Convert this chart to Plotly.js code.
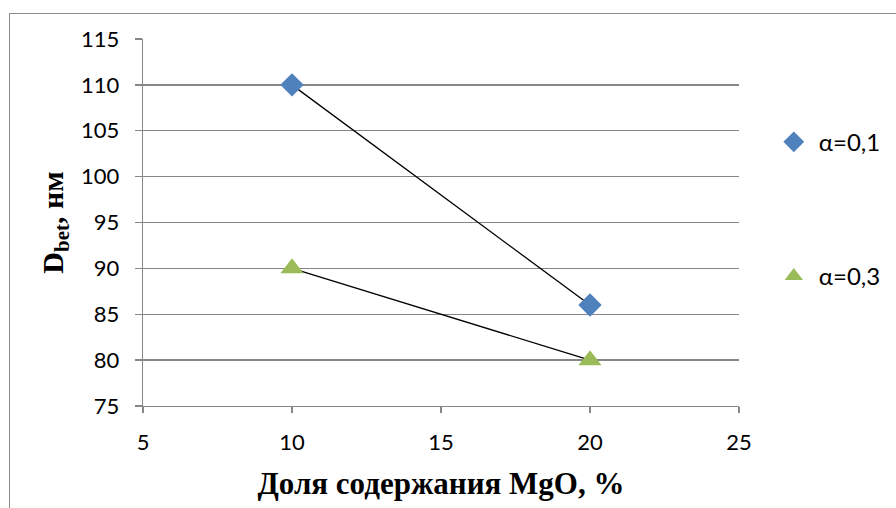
<!DOCTYPE html>
<html>
<head>
<meta charset="utf-8">
<script src="https://cdn.plot.ly/plotly-3.0.1.min.js"></script>
<style>
html,body{margin:0;padding:0;overflow:hidden;background:#fff;}
#frame{position:absolute;left:9px;top:13px;width:1000px;height:1000px;border:1px solid #8c8c8c;pointer-events:none;z-index:5;}
#chart{position:absolute;left:0;top:0;width:896px;height:508px;}
</style>
</head>
<body>
<div id="chart"></div>
<div id="frame"></div>
<script>
const mgo = [10, 20];
const dAlpha01 = [110, 86];
const dAlpha03 = [90, 80];
const seriesNames = ["α=0,1", "α=0,3"];
const xTicks = [5, 10, 15, 20, 25];
const yTicks = [75, 80, 85, 90, 95, 100, 105, 110, 115];

const lineStyle = {color: "#000000", width: 1.3};
const traces = [
  {x: mgo, y: dAlpha01, mode: "lines", line: lineStyle, showlegend: false, hoverinfo: "skip"},
  {x: mgo, y: dAlpha03, mode: "lines", line: lineStyle, showlegend: false, hoverinfo: "skip"},
  {x: mgo, y: dAlpha01, mode: "markers", name: seriesNames[0], legendgroup: "a",
   marker: {symbol: "diamond", size: 18, color: "#4F81BD"}},
  {x: mgo, y: dAlpha03, mode: "markers", name: seriesNames[1], legendgroup: "b",
   marker: {symbol: "triangle-up", size: 20, color: "#9BBB59"}}
];

const tickFont = {family: "Lato, 'Open Sans', sans-serif", size: 22, color: "#000"};
const titleFamily = "'Liberation Serif', 'Times New Roman', serif";
const layout = {
  width: 896, height: 508,
  margin: {l: 143, r: 157, t: 39, b: 102, autoexpand: false},
  paper_bgcolor: "#ffffff", plot_bgcolor: "#ffffff",
  showlegend: true,
  legend: {x: 1.05, y: 0.78, xanchor: "left", yanchor: "top", itemwidth: 40,
           font: {family: "Lato, 'Open Sans', sans-serif", size: 24, color: "#000"},
           tracegroupgap: 100, traceorder: "grouped", bgcolor: "rgba(0,0,0,0)"},
  xaxis: {
    range: [5, 25], tickvals: xTicks, ticktext: xTicks.map(String),
    showgrid: false, zeroline: false, showline: true, linecolor: "#868686", linewidth: 1.3,
    ticks: "outside", ticklen: 6, tickcolor: "#868686", tickwidth: 1.3,
    tickfont: tickFont, ticklabelstandoff: 10,
    title: {text: "Доля содержания MgO, %", standoff: 18,
            font: {family: titleFamily, size: 31, color: "#000", weight: "bold"}}
  },
  yaxis: {
    range: [75, 115], tickvals: yTicks, ticktext: yTicks.map(String),
    showgrid: true, gridcolor: "#868686", gridwidth: 1.3, zeroline: false,
    showline: true, linecolor: "#868686", linewidth: 1.3,
    ticks: "outside", ticklen: 7, tickcolor: "#868686", tickwidth: 1.3,
    tickfont: tickFont, ticklabelstandoff: 11,
    title: {text: "D<sub>bet</sub>, нм", standoff: 8,
            font: {family: titleFamily, size: 30, color: "#000", weight: "bold"}}
  }
};

Plotly.newPlot("chart", traces, layout, {staticPlot: true, displayModeBar: false});
</script>
</body>
</html>
